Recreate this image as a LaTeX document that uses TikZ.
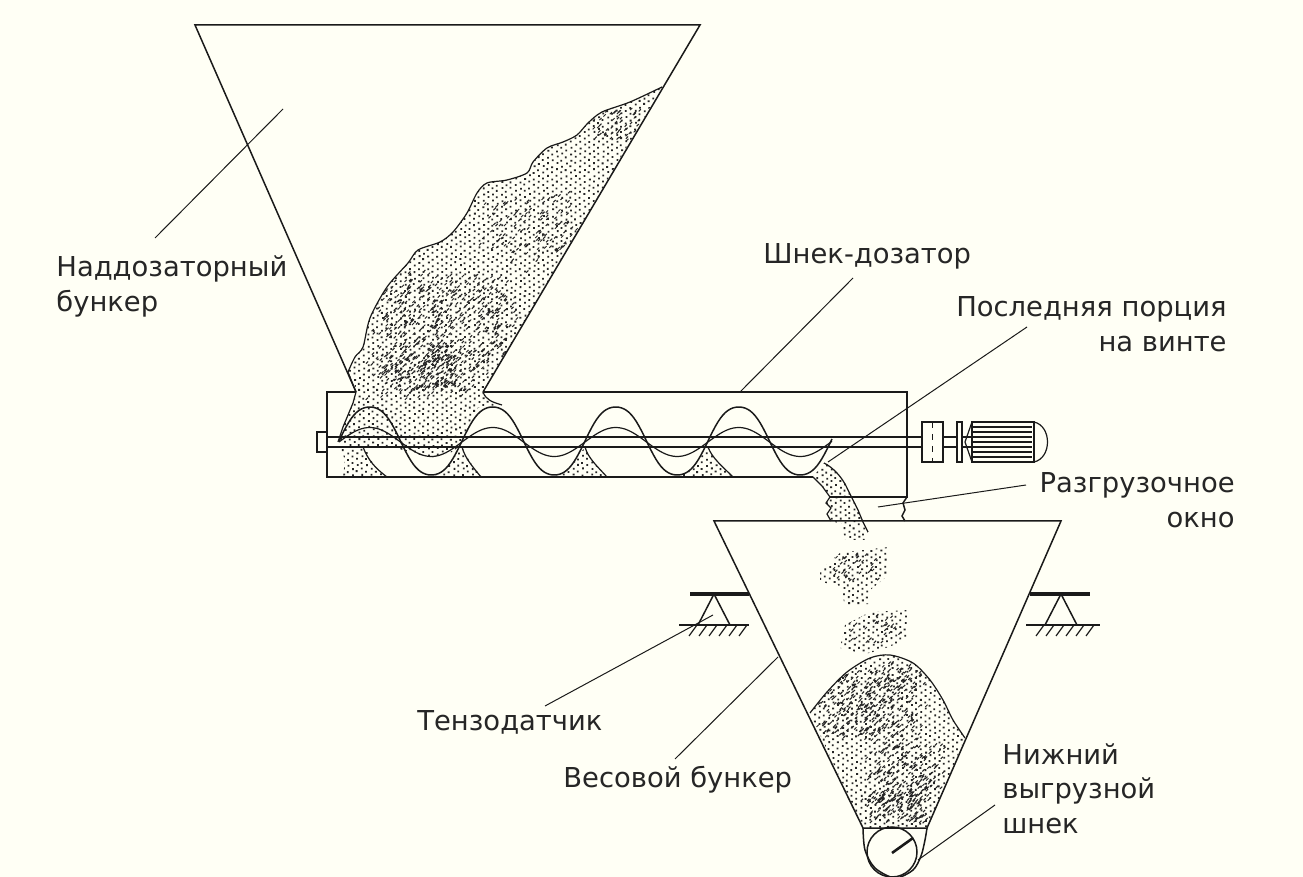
\documentclass[tikz,border=0pt]{standalone}
\usepackage{fontspec}
\setmainfont{DejaVu Sans}
\definecolor{paper}{HTML}{FFFFF5}
\definecolor{ink}{HTML}{1A1A1A}

% field of dots: first x, first y, columns, rows
\newcommand{\grainfield}[4]{%
  \foreach \gi in {0,...,#3} {
    \fill[grain] \foreach \gj in {0,...,#4} {
      ({#1+4.6*\gi+rand*0.7}, {#2+6.2*\gj+3.1*mod(\gi,2)+rand*0.7}) rectangle ++(1.8,1.8)
    };
  }%
}
% dark patch of short strokes: centre x, centre y, half width, half height, count
\newcommand{\grainpatch}[5]{%
  \draw[grainstroke] \foreach \gk in {1,...,#5} {
    ({#1+#3*rand*(0.55+0.45*rnd)}, {#2+#4*rand*(0.55+0.45*rnd)}) -- ++(2.2,-2.2)
  };%
}

\begin{document}
\begin{tikzpicture}[
    x=0.5pt, y=-0.5pt,
    declare function={wave(\t)=sin((\t-339)/123*360);},
    wall/.style={line width=0.75pt, draw=ink},
    thick wall/.style={line width=1.9pt, draw=ink},
    edgeline/.style={line width=0.6pt, draw=ink},
    leader/.style={line width=0.5pt, draw=ink},
    grain/.style={fill=black!85},
    grainstroke/.style={line width=0.5pt, draw=black!85},
    labeltext/.style={font=\fontsize{13.7}{17.5}\selectfont, text=black!85, inner sep=0pt, align=left}
]

    \useasboundingbox (0,0) rectangle (1303,877);
    \fill[paper] (0,0) rectangle (1303,877);
    \pgfmathsetseed{11}

    \def\heaptop{plot[smooth, tension=0.5] coordinates {(662,87) (630,102) (602,112) (588,123) (577,135) (563,142) (547,148) (533,162) (527,173) (507,180) (487,183) (477,193) (467,213) (453,232) (440,242) (418,250) (408,263) (387,287) (370,318) (363,347) (355,357) (348,372)}}
    \def\moundtop{plot[smooth, tension=0.5] coordinates {(810,713) (827,692) (847,672) (870,658) (890,655) (913,663) (930,680) (943,700) (953,720) (965,738)}}

    % Material in the upper hopper
    \begin{scope}
        \clip \heaptop -- (358,392) -- (353,403) -- (343,427) -- (340,441) -- (345,447) -- (392,447) -- (410,452) -- (430,458) -- (450,453) -- (460,447) -- (467,430) -- (478,408) -- (497,408) -- (483,392) -- cycle;
        \grainfield{340}{85}{72}{60}
        \grainpatch{445}{325}{85}{60}{500}
        \grainpatch{420}{375}{60}{28}{230}
        \grainpatch{530}{225}{52}{40}{120}
        \grainpatch{612}{125}{34}{20}{55}
    \end{scope}

    % Pockets under the screw
    \begin{scope}
        \clip (340,447) -- (345,460) -- (343,477) -- (387,477) -- (375,468) -- (365,447) -- cycle
              (462,447) -- (445,470) -- (430,477) -- (482,477) -- (470,462) -- cycle
              (585,447) -- (568,470) -- (553,477) -- (608,477) -- (593,462) -- cycle
              (708,447) -- (691,470) -- (676,477) -- (733,477) -- (716,462) -- cycle;
        \grainfield{338}{446}{88}{5}
    \end{scope}

    % Falling material
    \begin{scope}
        \clip (824,463) -- (832,467) -- (846,484) -- (855,503) -- (863,522) -- (868,530) -- (866,540) -- (845,540) -- (842,524) -- (831,521) -- (827,514) -- (831,508) -- (826,503) -- (830,497) -- (822,486) -- (813,477) -- cycle;
        \grainfield{812}{462}{13}{13}
    \end{scope}
    \begin{scope}
        \clip (840,553) -- (888,547) -- (889,575) -- (870,590) -- (870,604) -- (845,604) -- (838,585) -- (820,582) -- (820,570) -- cycle;
        \grainfield{820}{547}{15}{9}
        \grainpatch{852}{568}{30}{16}{35}
    \end{scope}
    \begin{scope}
        \clip (870,612) -- (907,610) -- (907,640) -- (880,650) -- (865,654) -- (840,648) -- (845,625) -- cycle;
        \grainfield{840}{610}{15}{7}
        \grainpatch{872}{630}{30}{16}{28}
    \end{scope}

    % Material in the lower hopper
    \begin{scope}
        \clip \moundtop -- (927,828) -- (863,828) -- cycle;
        \grainfield{805}{652}{36}{30}
        \grainpatch{868}{708}{58}{38}{310}
        \grainpatch{905}{770}{45}{38}{200}
        \grainpatch{895}{808}{36}{18}{130}
        \grainpatch{895}{675}{30}{14}{40}
    \end{scope}

    % Material outlines
    \draw[edgeline] \heaptop -- (356,392) -- (353,403) -- (343,427) -- (338,442);
    \draw[edgeline] \moundtop;
    \draw[edgeline] (483,392) .. controls (486,400) and (492,402) .. (502,405);
    \draw[edgeline] (363,447) .. controls (368,460) and (375,468) .. (387,477);
    \draw[edgeline] (462,447) .. controls (465,458) and (472,466) .. (481,477);
    \draw[edgeline] (585,447) .. controls (588,458) and (597,466) .. (607,477);
    \draw[edgeline] (708,447) .. controls (712,458) and (722,466) .. (733,477);
    \draw[edgeline] (813,477) -- (822,486) -- (830,497) -- (826,503) -- (831,508) -- (827,514) -- (831,521);
    \draw[edgeline] (824,463) .. controls (832,467) and (842,476) .. (848,490) -- (858,510) -- (863,522) -- (868,532);

    % Upper hopper and screw housing
    \draw[wall] (356,392) -- (195,25) -- (700,25) -- (483,392);
    \draw[wall] (356,392) -- (327,392) -- (327,477) -- (813,477);
    \draw[wall] (483,392) -- (907,392) -- (907,497) -- (830,497);
    \draw[wall] (907,497) -- (903,503) -- (905,510) -- (902,516) -- (905,521);
    \draw[wall] (327,432) rectangle (317,452);

    % Shaft and screw
    \draw[wall] (327,437) -- (922,437);
    \draw[wall] (327,447) -- (922,447);
    \draw[wall] plot[domain=339:832, samples=200] (\x, {441-34*(1.2*wave(\x)-0.2*wave(\x)*wave(\x)*wave(\x))});
    \draw[edgeline] plot[domain=339:832, samples=200] (\x, {442-14.5*wave(\x)});

    % Drive
    \draw[wall, fill=paper] (922,422) rectangle (943,462);
    \draw[wall, dashed] (932.5,422) -- (932.5,462);
    \draw[wall] (943,437) -- (957,437) (943,447) -- (957,447);
    \draw[wall, fill=paper] (957,422) rectangle (962,462);
    \draw[wall] (962,437) -- (972,437) (962,447) -- (972,447);
    \draw[edgeline] (972,422) -- (965,442) -- (972,462);
    \draw[wall] (972,422) rectangle (1034,462);
    \foreach \fy in {427,432,...,457} {
        \draw[edgeline] (972,\fy) -- (1032,\fy);
    }
    \draw[edgeline] (1034,422) .. controls (1052,426) and (1052,458) .. (1034,462);

    % Lower hopper and discharge screw
    \draw[wall] (863,828) -- (714,521) -- (1061,521) -- (927,828) -- cycle;
    \draw[wall] plot[smooth] coordinates {(863,828) (865,850) (875,868) (895,878) (913,870) (921,856) (925,840) (927,828)};
    \draw[wall] (892,852) circle (25);
    \draw[line width=1.3pt, draw=ink] (892,853) -- (913,838);

    % Load cells
    \foreach \sx/\bl/\br/\gl/\gr in {714/690/749/679/749, 1061/1030/1090/1026/1100} {
        \draw[thick wall] (\bl,594) -- (\br,594);
        \draw[wall] (\sx-16,625) -- (\sx,594) -- (\sx+16,625);
        \draw[wall] (\gl,625) -- (\gr,625);
        \foreach \k in {0,...,5} {
            \draw[edgeline] ({\sx-25+10*\k},636) -- ++(8,-11);
        }
    }

    % Labels
    \node[labeltext, anchor=base west] (lblHopper) at (56,277) {Наддозаторный};
    \node[labeltext, anchor=base west] (lblHopperB) at (56,312) {бункер};
    \node[labeltext, anchor=base west] (lblDoser) at (763,264) {Шнек-дозатор};
    \node[labeltext, anchor=base east] (lblLast) at (1227,317) {Последняя порция};
    \node[labeltext, anchor=base east] (lblLastB) at (1227,352) {на винте};
    \node[labeltext, anchor=base east] (lblWindow) at (1235,493) {Разгрузочное};
    \node[labeltext, anchor=base east] (lblWindowB) at (1235,528) {окно};
    \node[labeltext, anchor=base west] (lblSensor) at (417,730) {Тензодатчик};
    \node[labeltext, anchor=base west] (lblWeigh) at (563,787) {Весовой бункер};
    \node[labeltext, anchor=base west] (lblLower) at (1002,764) {Нижний};
    \node[labeltext, anchor=base west] (lblLowerB) at (1002,798) {выгрузной};
    \node[labeltext, anchor=base west] (lblLowerC) at (1002,833) {шнек};

    % Leader lines
    \coordinate (hopperFrom) at (155,238);
    \coordinate (hopperTo) at (283,109);
    \coordinate (doserFrom) at (853,278);
    \coordinate (doserTo) at (740,392);
    \coordinate (lastFrom) at (1027,327);
    \coordinate (lastTo) at (828,462);
    \coordinate (windowFrom) at (1026,485);
    \coordinate (windowTo) at (878,507);
    \coordinate (sensorFrom) at (545,706);
    \coordinate (sensorTo) at (713,615);
    \coordinate (weighFrom) at (675,759);
    \coordinate (weighTo) at (778,657);
    \coordinate (lowerFrom) at (995,805);
    \coordinate (lowerTo) at (918,860);
    \foreach \a/\b in {hopperFrom/hopperTo, doserFrom/doserTo, lastFrom/lastTo, windowFrom/windowTo, sensorFrom/sensorTo, weighFrom/weighTo, lowerFrom/lowerTo} {
        \draw[leader] (\a) -- (\b);
    }

\end{tikzpicture}
\end{document}
